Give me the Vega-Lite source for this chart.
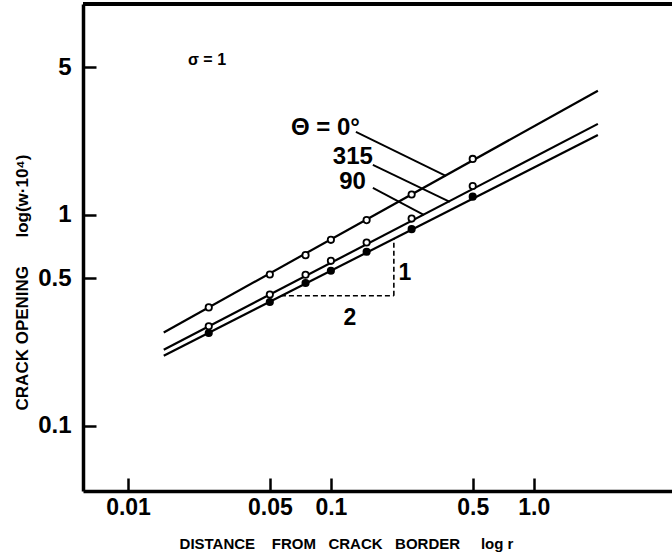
{
  "$schema": "https://vega.github.io/schema/vega-lite/v6.json",
  "width": 589,
  "height": 487,
  "autosize": {"type": "none"},
  "padding": {"left": 83, "top": 4, "right": 0, "bottom": 69},
  "background": "white",
  "config": {"view": {"stroke": null}},
  "datasets": {
    "points": [
      {"theta": "0°", "r": 0.025, "w": 0.364},
      {"theta": "0°", "r": 0.05, "w": 0.521},
      {"theta": "0°", "r": 0.075, "w": 0.644},
      {"theta": "0°", "r": 0.1, "w": 0.761},
      {"theta": "0°", "r": 0.15, "w": 0.944},
      {"theta": "0°", "r": 0.25, "w": 1.248},
      {"theta": "0°", "r": 0.5, "w": 1.842},
      {"theta": "315", "r": 0.025, "w": 0.296},
      {"theta": "315", "r": 0.05, "w": 0.419},
      {"theta": "315", "r": 0.075, "w": 0.52},
      {"theta": "315", "r": 0.1, "w": 0.605},
      {"theta": "315", "r": 0.15, "w": 0.739},
      {"theta": "315", "r": 0.25, "w": 0.96},
      {"theta": "315", "r": 0.5, "w": 1.37},
      {"theta": "90", "r": 0.025, "w": 0.275},
      {"theta": "90", "r": 0.05, "w": 0.386},
      {"theta": "90", "r": 0.075, "w": 0.475},
      {"theta": "90", "r": 0.1, "w": 0.543},
      {"theta": "90", "r": 0.15, "w": 0.668},
      {"theta": "90", "r": 0.25, "w": 0.855},
      {"theta": "90", "r": 0.5, "w": 1.22}
    ],
    "lines": [
      {"theta": "0°", "r": 0.015, "w": 0.2768},
      {"theta": "0°", "r": 2.07, "w": 3.88},
      {"theta": "315", "r": 0.015, "w": 0.229},
      {"theta": "315", "r": 2.07, "w": 2.7},
      {"theta": "90", "r": 0.015, "w": 0.2147},
      {"theta": "90", "r": 2.07, "w": 2.39}
    ],
    "leaders": [
      {"theta": "0°", "r": 0.1328, "w": 2.474, "r2": 0.3685, "w2": 1.53},
      {"theta": "315", "r": 0.161, "w": 1.726, "r2": 0.3857, "w2": 1.152},
      {"theta": "90", "r": 0.161, "w": 1.343, "r2": 0.287, "w2": 1.0}
    ],
    "triangle": [
      {"side": "run", "r": 0.0567, "w": 0.4131, "r2": 0.2043, "w2": 0.4131},
      {"side": "rise", "r": 0.2043, "w": 0.4131, "r2": 0.2043, "w2": 0.7697}
    ],
    "curveLabels": [
      {"label": "Θ = 0°", "r": 0.139, "w": 2.584},
      {"label": "315", "r": 0.161, "w": 1.883},
      {"label": "90", "r": 0.1487, "w": 1.434}
    ],
    "slopeLabels": [
      {"label": "1", "r": 0.2314, "w": 0.531},
      {"label": "2", "r": 0.1241, "w": 0.325}
    ],
    "note": [
      {"label": "σ = 1", "r": 0.01975, "w": 5.43}
    ]
  },
  "layer": [
    {
      "data": {"name": "lines"},
      "mark": {"type": "line", "strokeWidth": 2.2, "color": "black"},
      "encoding": {
        "x": {
          "field": "r", "type": "quantitative",
          "scale": {"type": "log", "domain": [0.006, 4.8], "nice": false},
          "axis": {
            "values": [0.01, 0.05, 0.1, 0.5, 1],
            "labelExpr": "datum.value == 1 ? '1.0' : '' + datum.value",
            "grid": false,
            "domainColor": "black", "domainWidth": 3.5,
            "tickColor": "black", "tickWidth": 2.5, "tickSize": -13,
            "labelFont": "Liberation Sans", "labelFontWeight": "bold", "labelFontSize": 23,
            "labelColor": "black", "labelPadding": 18, "labelFlush": false, "labelOverlap": false,
            "title": "DISTANCE\u00a0\u00a0\u00a0\u00a0FROM\u00a0\u00a0\u00a0CRACK\u00a0\u00a0\u00a0BORDER\u00a0\u00a0\u00a0\u00a0\u00a0log r",
            "titleFont": "Liberation Sans", "titleFontWeight": "bold", "titleFontSize": 15,
            "titleColor": "black", "titleX": 263, "titleY": 57, "titleAlign": "center", "titleBaseline": "alphabetic"
          }
        },
        "y": {
          "field": "w", "type": "quantitative",
          "scale": {"type": "log", "domain": [0.049, 10], "nice": false},
          "axis": {
            "values": [0.1, 0.5, 1, 5],
            "labelExpr": "'' + datum.value",
            "grid": false,
            "domainColor": "black", "domainWidth": 3.5,
            "tickColor": "black", "tickWidth": 2.5, "tickSize": -13,
            "labelFont": "Liberation Sans", "labelFontWeight": "bold", "labelFontSize": 24,
            "labelColor": "black", "labelPadding": 25, "labelFlush": false, "labelOverlap": false,
            "title": "CRACK OPENING\u00a0\u00a0\u00a0\u00a0\u00a0\u00a0log(w·10⁴)",
            "titleFont": "Liberation Sans", "titleFontWeight": "bold", "titleFontSize": 17,
            "titleColor": "black", "titleAngle": -90, "titleX": -56, "titleY": 278, "titleAlign": "center", "titleBaseline": "alphabetic"
          }
        },
        "detail": {"field": "theta"}
      }
    },
    {
      "data": {"name": "leaders"},
      "mark": {"type": "rule", "strokeWidth": 1.8, "color": "black"},
      "encoding": {
        "x": {"field": "r", "type": "quantitative", "scale": {"type": "log", "domain": [0.006, 4.8], "nice": false}},
        "y": {"field": "w", "type": "quantitative", "scale": {"type": "log", "domain": [0.049, 10], "nice": false}},
        "x2": {"field": "r2"},
        "y2": {"field": "w2"}
      }
    },
    {
      "data": {"name": "triangle"},
      "mark": {"type": "rule", "strokeWidth": 1.6, "color": "black", "strokeDash": [5, 3]},
      "encoding": {
        "x": {"field": "r", "type": "quantitative", "scale": {"type": "log", "domain": [0.006, 4.8], "nice": false}},
        "y": {"field": "w", "type": "quantitative", "scale": {"type": "log", "domain": [0.049, 10], "nice": false}},
        "x2": {"field": "r2"},
        "y2": {"field": "w2"}
      }
    },
    {
      "data": {"name": "points"},
      "mark": {"type": "point", "shape": "circle", "size": 40, "strokeWidth": 1.8, "stroke": "black", "filled": true, "opacity": 1},
      "encoding": {
        "x": {"field": "r", "type": "quantitative", "scale": {"type": "log", "domain": [0.006, 4.8], "nice": false}},
        "y": {"field": "w", "type": "quantitative", "scale": {"type": "log", "domain": [0.049, 10], "nice": false}},
        "fill": {"field": "theta", "type": "nominal", "scale": {"domain": ["0°", "315", "90"], "range": ["white", "white", "black"]}, "legend": null}
      }
    },
    {
      "data": {"name": "curveLabels"},
      "mark": {"type": "text", "align": "right", "baseline": "middle", "font": "Liberation Sans", "fontWeight": "bold", "fontSize": 24, "color": "black"},
      "encoding": {
        "x": {"field": "r", "type": "quantitative", "scale": {"type": "log", "domain": [0.006, 4.8], "nice": false}},
        "y": {"field": "w", "type": "quantitative", "scale": {"type": "log", "domain": [0.049, 10], "nice": false}},
        "text": {"field": "label"}
      }
    },
    {
      "data": {"name": "slopeLabels"},
      "mark": {"type": "text", "align": "center", "baseline": "middle", "font": "Liberation Sans", "fontWeight": "bold", "fontSize": 23, "color": "black"},
      "encoding": {
        "x": {"field": "r", "type": "quantitative", "scale": {"type": "log", "domain": [0.006, 4.8], "nice": false}},
        "y": {"field": "w", "type": "quantitative", "scale": {"type": "log", "domain": [0.049, 10], "nice": false}},
        "text": {"field": "label"}
      }
    },
    {
      "data": {"name": "note"},
      "mark": {"type": "text", "align": "left", "baseline": "middle", "font": "Liberation Sans", "fontWeight": "bold", "fontSize": 16, "color": "black"},
      "encoding": {
        "x": {"field": "r", "type": "quantitative", "scale": {"type": "log", "domain": [0.006, 4.8], "nice": false}},
        "y": {"field": "w", "type": "quantitative", "scale": {"type": "log", "domain": [0.049, 10], "nice": false}},
        "text": {"field": "label"}
      }
    },
    {
      "data": {"name": "lines"},
      "mark": {"type": "rule", "strokeWidth": 3.5, "color": "black"},
      "encoding": {
        "y": {"datum": 10, "type": "quantitative", "scale": {"type": "log", "domain": [0.049, 10], "nice": false}}
      }
    }
  ]
}
